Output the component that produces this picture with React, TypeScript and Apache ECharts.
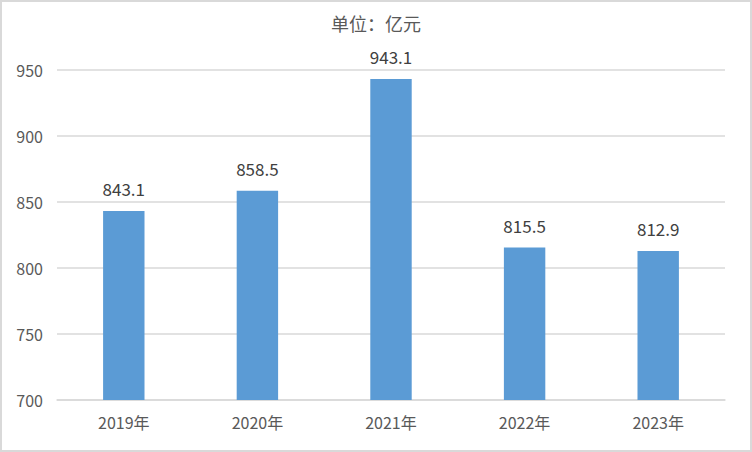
import React, { useEffect, useRef } from "react";
import * as echarts from "echarts";

const categories = ["2019年", "2020年", "2021年", "2022年", "2023年"];
const values = [843.1, 858.5, 943.1, 815.5, 812.9];
const yTicks = { min: 700, max: 950, interval: 50 };
const titleText = "单位：亿元";

export default function App() {
  const ref = useRef<HTMLDivElement>(null);
  useEffect(() => {
    document.body.style.margin = "0";
    const chart = echarts.init(ref.current!, null, { renderer: "svg" });
    const font = "'Noto Sans CJK SC', 'Noto Sans', sans-serif";
    chart.setOption({
      animation: false,
      backgroundColor: "#ffffff",
      title: {
        text: titleText,
        left: "center",
        top: 9,
        textStyle: { fontSize: 18, fontWeight: "normal", color: "#595959", fontFamily: font },
      },
      graphic: [
        {
          type: "rect",
          shape: { x: 1, y: 1, width: 750, height: 450 },
          style: { fill: "none", stroke: "#d9d9d9", lineWidth: 2 },
          silent: true,
        },
      ],
      grid: { left: 57, right: 27, top: 70, bottom: 52, containLabel: false },
      xAxis: {
        type: "category",
        data: categories,
        axisLine: { lineStyle: { color: "#d9d9d9", width: 1.5 } },
        axisTick: { show: false },
        axisLabel: { color: "#595959", fontSize: 16, margin: 14, fontFamily: font },
      },
      yAxis: {
        type: "value",
        min: yTicks.min,
        max: yTicks.max,
        interval: yTicks.interval,
        axisLine: { show: false },
        axisTick: { show: false },
        splitLine: { lineStyle: { color: "#d9d9d9", width: 1.5 } },
        axisLabel: { color: "#595959", fontSize: 16, margin: 14, fontFamily: font },
      },
      series: [
        {
          type: "bar",
          data: values,
          barWidth: "31%",
          itemStyle: { color: "#5b9bd5" },
          label: {
            show: true,
            position: "top",
            distance: 14,
            color: "#404040",
            fontSize: 17,
            fontFamily: font,
            formatter: (p: any) => p.value.toFixed(1),
          },
        },
      ],
    });
    return () => chart.dispose();
  }, []);
  return <div ref={ref} style={{ width: 752, height: 452 }} />;
}
